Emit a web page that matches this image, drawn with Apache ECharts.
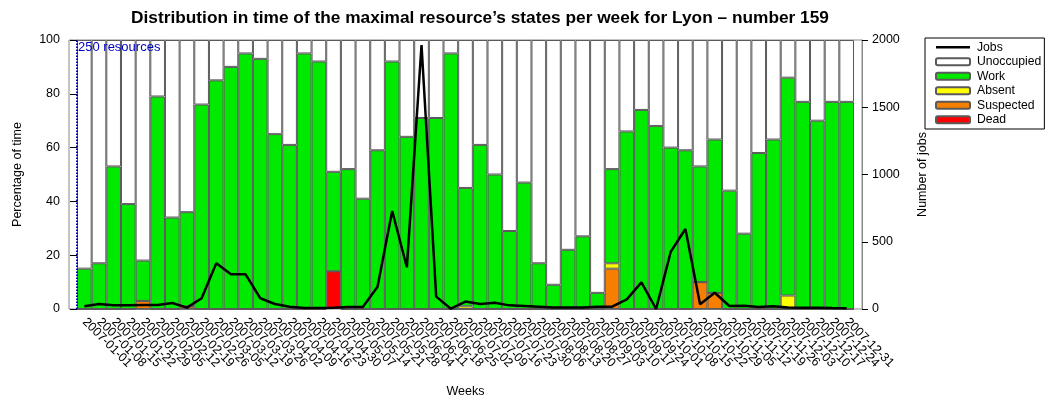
<!DOCTYPE html>
<html>
<head>
<meta charset="utf-8">
<script src="https://cdn.jsdelivr.net/npm/echarts@6/dist/echarts.min.js"></script>
<style>
html,body{margin:0;padding:0;background:#fff;}
#c{width:1057px;height:401px;}
</style>
</head>
<body>
<div id="c"></div>
<script>
var weeks = ['2007-01-01','2007-01-08','2007-01-15','2007-01-22','2007-01-29','2007-02-05','2007-02-12','2007-02-19','2007-02-26','2007-03-05','2007-03-12','2007-03-19','2007-03-26','2007-04-02','2007-04-09','2007-04-16','2007-04-23','2007-04-30','2007-05-07','2007-05-14','2007-05-21','2007-05-28','2007-06-04','2007-06-11','2007-06-18','2007-06-25','2007-07-02','2007-07-09','2007-07-16','2007-07-23','2007-07-30','2007-08-06','2007-08-13','2007-08-20','2007-08-27','2007-09-03','2007-09-10','2007-09-17','2007-09-24','2007-10-01','2007-10-08','2007-10-15','2007-10-22','2007-10-29','2007-11-05','2007-11-12','2007-11-19','2007-11-26','2007-12-03','2007-12-10','2007-12-17','2007-12-24','2007-12-31'];
var dead      = [0,0,0,0,0,0,0,0,0,0,0,0,0,0,0,0,0,14,0,0,0,0,0,0,0,0,0,0,0,0,0,0,0,0,0,0,0,0,0,0,0,0,0,0,0,0,0,0,0,0,0,0,0];
var suspected = [0,0,0,0,3,0,0,1,0,0,0,0,0,0,0,0,0,0,0,0,0,0,0,0,0,0,0,0,0,0,0,0,0,0,0,0,15,0,0,0,0,0,10,6,0,0,0,0,0,0,0,0,0];
var absent    = [0,0,0,0,0,0,0,0,0,0,0,0,0,0,0,0,0,0,0,0,0,0,0,0,0,0,1,0,0,0,0,0,0,0,0,0,2,0,0,0,0,0,0,0,0,0,0,0,5,0,0,0,0];
var work      = [15,17,53,39,15,79,34,35,76,85,90,95,93,65,61,95,92,37,52,41,59,92,64,71,71,95,44,61,50,29,47,17,9,22,27,6,35,66,74,68,60,59,43,57,44,28,58,63,81,77,70,77,77];
var unoccupied= [85,83,47,61,82,21,66,64,24,15,10,5,7,35,39,5,8,49,48,59,41,8,36,29,29,5,55,39,50,71,53,83,91,78,73,94,48,34,26,32,40,41,47,37,56,72,42,37,14,23,30,23,23];
var jobs      = [20,37,27,27,30,30,45,10,80,340,258,258,80,37,17,7,7,10,15,15,166,729,310,1963,92,2,55,37,47,27,22,17,12,12,12,17,17,72,198,0,426,595,35,121,22,25,15,20,12,10,10,7,5];
var leftTicks = [0,20,40,60,80,100];
var rightTicks = [0,500,1000,1500,2000];

var FONT = 'Liberation Sans';
var chart = echarts.init(document.getElementById('c'), null, {renderer:'canvas'});
var border = {borderColor:'#5a5a5a', borderWidth:1};
function barSeries(name, data, color){
  return {name:name, type:'bar', stack:'s', data:data, barCategoryGap:'0%',
    itemStyle:Object.assign({color:color}, border), emphasis:{disabled:true}, z:2};
}
chart.setOption({
  animation:false,
  textStyle:{fontFamily:FONT},
  title:[
    {text:'Distribution in time of the maximal resource\u2019s states per week for Lyon \u2013 number 159',
     left:480, textAlign:'center', top:10, padding:0,
     textStyle:{fontFamily:FONT, fontSize:17.3, fontWeight:'bold', color:'#000'}},
    {text:'250 resources', left:78, top:41, padding:0,
     textStyle:{fontFamily:FONT, fontSize:13, fontWeight:'normal', color:'#0000c0'}}
  ],
  legend:{
    orient:'vertical', left:925, top:38,
    data:[{name:'Jobs', icon:'path://M0,0L34,0L34,2.6L0,2.6Z', itemStyle:{color:'#000', borderWidth:0}},
          'Unoccupied','Work','Absent','Suspected','Dead'],
    itemWidth:34, itemHeight:7, itemGap:0,
    borderColor:'#000', borderWidth:1, padding:[2,3,2,10],
    textStyle:{fontFamily:FONT, fontSize:12.2, color:'#000', lineHeight:14.5, padding:[0,0,0,2]},
    selectedMode:false
  },
  grid:[
    {left:77, right:203, top:40, bottom:92, containLabel:false, outerBoundsMode:'none'},
    {left:69, right:195, top:40, bottom:92, show:true, borderColor:'#8a8a8a', borderWidth:1, backgroundColor:'transparent', outerBoundsMode:'none'}
  ],
  xAxis:[
    {type:'category', data:weeks, gridIndex:0,
     axisLine:{show:false}, axisTick:{show:false},
     axisLabel:{interval:0, rotate:-45, fontSize:12.5, color:'#000', margin:11, fontFamily:FONT},
     name:'Weeks', nameLocation:'middle', nameGap:76,
     nameTextStyle:{fontFamily:FONT, fontSize:12.5, color:'#000'}},
    {type:'value', gridIndex:0, min:0, max:53, show:false},
    {type:'value', gridIndex:1, min:0, max:1, show:false}
  ],
  yAxis:[
    {type:'value', gridIndex:0, min:0, max:100, interval:20, offset:8,
     axisLine:{show:true, lineStyle:{color:'#8a8a8a'}},
     axisTick:{show:true, length:7, lineStyle:{color:'#000'}},
     axisLabel:{color:'#000', fontSize:12.5, margin:9, fontFamily:FONT},
     splitLine:{show:false},
     name:'Percentage of time', nameLocation:'middle', nameGap:45,
     nameTextStyle:{fontFamily:FONT, fontSize:12.5, color:'#000'}},
    {type:'value', gridIndex:0, min:0, max:2000, interval:500, offset:8, position:'right',
     axisLine:{show:true, lineStyle:{color:'#8a8a8a'}},
     axisTick:{show:true, length:6, lineStyle:{color:'#000'}},
     axisLabel:{color:'#000', fontSize:12.5, margin:10, fontFamily:FONT,
       formatter:function(v){return String(v);}},
     splitLine:{show:false},
     name:'Number of jobs', nameLocation:'middle', nameGap:54,
     nameTextStyle:{fontFamily:FONT, fontSize:12.5, color:'#000'}},
    {type:'value', gridIndex:1, min:0, max:1, show:false}
  ],
  series:[
    barSeries('Dead', dead, '#ff0000'),
    barSeries('Suspected', suspected, '#f77f00'),
    barSeries('Absent', absent, '#ffff00'),
    barSeries('Work', work, '#00ea00'),
    barSeries('Unoccupied', unoccupied, '#ffffff'),
    {name:'Jobs', type:'line', yAxisIndex:1, data:jobs, symbol:'none', z:5,
     lineStyle:{color:'#000', width:2.5}, itemStyle:{color:'#000'}, emphasis:{disabled:true}},
    {name:'marker', type:'line', xAxisIndex:1, yAxisIndex:0, data:[[0,0]], symbol:'none',
     lineStyle:{width:0}, silent:true, z:6,
     markLine:{symbol:'none', silent:true, animation:false, label:{show:false},
       lineStyle:{color:'#0000c0', type:[1.5,1.5], width:2},
       data:[{xAxis:0}]}}
  ]
});
</script>
</body>
</html>
